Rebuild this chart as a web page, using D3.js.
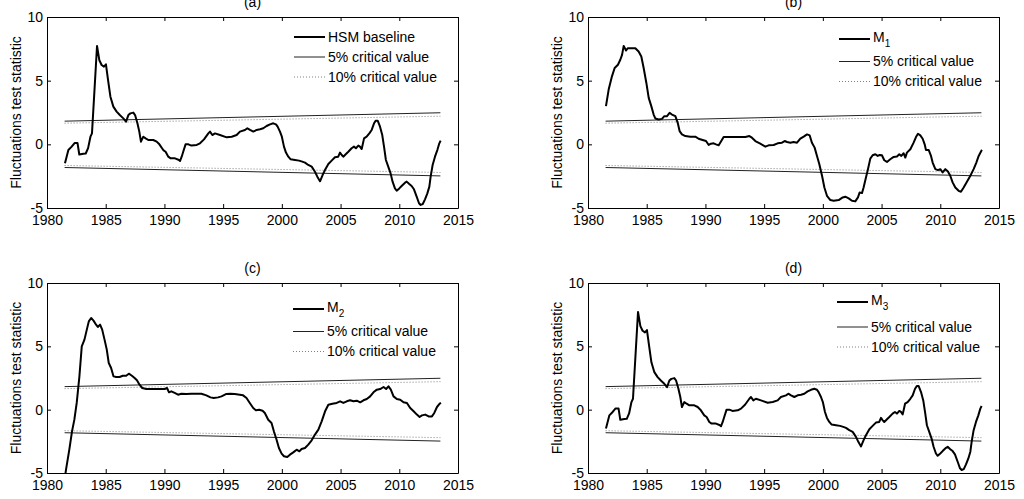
<!DOCTYPE html>
<html>
<head>
<meta charset="utf-8">
<script src="https://cdn.jsdelivr.net/npm/d3@7"></script>
<style>
body { margin: 0; background: #fff; }
svg text { font-family: "Liberation Sans", Arial, Helvetica, sans-serif; }
</style>
</head>
<body>
<svg id="chart" width="1024" height="499"></svg>
<script>
// tick labels and text
const xTicks = [1980, 1985, 1990, 1995, 2000, 2005, 2010, 2015];
const yTicks = [-5, 0, 5, 10];
const panelTitles = ["(a)", "(b)", "(c)", "(d)"];
const seriesNames = [["HSM baseline", ""], ["M", "1"], ["M", "2"], ["M", "3"]];
const criticalLabels = ["5% critical value", "10% critical value"];
const yLabel = "Fluctuations test statistic";

// fluctuation test statistic, [year, value]
const hsmBaseline = [
  [1981.53,-1.49],[1981.82,-0.45],[1982.1,-0.18],[1982.35,0.1],[1982.6,0.1],[1982.75,-0.8],[1983.1,-0.74],[1983.3,-0.72],
  [1983.5,-0.3],[1983.7,0.6],[1983.83,0.86],[1984.26,7.72],[1984.46,6.6],[1984.65,6.23],[1984.85,6.1],[1985.02,6.28],
  [1985.2,5.05],[1985.4,3.74],[1985.65,2.96],[1985.93,2.57],[1986.2,2.3],[1986.5,2.04],[1986.73,1.78],[1986.93,2.3],
  [1987.1,2.43],[1987.35,2.49],[1987.5,2.3],[1987.7,1.65],[1987.86,1.0],[1988.0,0.21],[1988.2,0.6],[1988.4,0.47],
  [1988.63,0.34],[1989.05,0.34],[1989.34,0.21],[1989.57,0.0],[1989.9,-0.45],[1990.1,-0.58],[1990.33,-0.97],[1990.53,-1.1],
  [1990.9,-1.1],[1991.24,-1.23],[1991.33,-1.31],[1991.47,-0.97],[1991.6,-0.58],[1991.8,0.0],[1992.04,0.0],[1992.3,-0.1],
  [1992.75,-0.05],[1993.03,0.08],[1993.37,0.39],[1993.74,0.86],[1993.88,1.0],[1994.08,0.73],[1994.3,0.86],[1994.73,0.73],
  [1995.3,0.55],[1995.73,0.6],[1996.15,0.73],[1996.43,1.0],[1996.86,1.13],[1997.06,1.26],[1997.29,1.13],[1997.57,1.0],
  [1997.85,1.13],[1998.14,1.18],[1998.42,1.26],[1998.7,1.44],[1998.99,1.57],[1999.27,1.65],[1999.5,1.57],[1999.64,1.39],
  [1999.84,1.0],[2000.0,0.6],[2000.18,-0.18],[2000.35,-0.65],[2000.55,-0.97],[2000.75,-1.18],[2001.12,-1.23],[2001.46,-1.28],
  [2001.74,-1.36],[2001.97,-1.44],[2002.25,-1.62],[2002.54,-1.75],[2002.82,-2.15],[2003.02,-2.54],[2003.25,-2.9],[2003.47,-2.41],
  [2003.67,-2.02],[2003.96,-1.54],[2004.24,-1.28],[2004.52,-1.02],[2004.8,-0.97],[2004.95,-0.65],[2005.1,-0.84],[2005.23,-0.97],
  [2005.46,-0.76],[2005.66,-0.58],[2005.94,-0.31],[2006.14,-0.18],[2006.31,-0.31],[2006.51,-0.1],[2006.65,-0.18],[2006.8,-0.37],
  [2007.0,0.47],[2007.22,0.6],[2007.45,0.86],[2007.65,1.13],[2007.85,1.65],[2008.0,1.86],[2008.16,1.86],[2008.36,1.39],
  [2008.55,0.73],[2008.7,-0.18],[2008.86,-1.23],[2009.06,-1.75],[2009.26,-2.28],[2009.43,-2.93],[2009.63,-3.46],[2009.78,-3.64],
  [2010.0,-3.46],[2010.2,-3.27],[2010.49,-3.01],[2010.63,-2.93],[2010.85,-3.12],[2011.05,-3.27],[2011.25,-3.53],[2011.48,-4.11],
  [2011.68,-4.63],[2011.82,-4.76],[2012.0,-4.69],[2012.19,-4.32],[2012.39,-3.85],[2012.56,-3.32],[2012.67,-2.54],[2012.84,-1.62],
  [2013.04,-0.97],[2013.24,-0.45],[2013.41,0.08],[2013.52,0.29]
];

const m1 = [
  [1981.53,3.0],[1981.76,4.3],[1982.04,5.34],[1982.27,5.99],[1982.55,6.25],[1982.75,6.64],[1982.9,7.03],[1983.04,7.73],
  [1983.24,7.37],[1983.4,7.55],[1983.75,7.55],[1984.03,7.55],[1984.31,7.29],[1984.54,6.9],[1984.74,5.99],[1984.97,4.82],
  [1985.17,3.65],[1985.39,3.0],[1985.59,2.34],[1985.73,2.03],[1986.02,1.95],[1986.3,2.0],[1986.5,2.21],[1986.73,2.21],
  [1986.95,2.47],[1987.15,2.34],[1987.44,2.21],[1987.64,1.69],[1987.8,1.04],[1988.0,0.78],[1988.29,0.65],[1988.71,0.6],
  [1989.14,0.6],[1989.42,0.44],[1989.76,0.34],[1990.05,0.26],[1990.28,-0.05],[1990.47,0.05],[1990.7,0.08],[1990.9,0.0],
  [1991.13,-0.08],[1991.35,0.26],[1991.55,0.57],[1991.98,0.57],[1992.83,0.57],[1993.4,0.57],[1993.74,0.65],[1993.96,0.52],
  [1994.25,0.26],[1994.67,0.05],[1995.1,-0.18],[1995.38,-0.08],[1995.81,-0.05],[1996.15,0.08],[1996.52,0.13],[1996.75,0.26],
  [1996.95,0.18],[1997.23,0.13],[1997.51,0.18],[1997.8,0.13],[1998.08,0.44],[1998.37,0.6],[1998.65,0.78],[1998.88,0.7],
  [1999.07,0.13],[1999.3,-0.26],[1999.5,-0.91],[1999.7,-1.56],[1999.93,-2.47],[2000.13,-3.39],[2000.35,-4.04],[2000.64,-4.38],
  [2000.92,-4.43],[2001.35,-4.38],[2001.69,-4.17],[2001.91,-4.11],[2002.2,-4.24],[2002.48,-4.43],[2002.76,-4.48],[2002.99,-4.17],
  [2003.13,-3.78],[2003.33,-3.83],[2003.47,-3.39],[2003.67,-2.6],[2003.84,-1.95],[2004.04,-1.12],[2004.24,-0.86],[2004.47,-0.78],
  [2004.67,-0.91],[2004.84,-0.83],[2005.03,-0.86],[2005.23,-1.25],[2005.46,-1.38],[2005.74,-1.17],[2006.03,-0.99],[2006.31,-0.96],
  [2006.51,-0.78],[2006.68,-0.91],[2006.88,-0.7],[2007.02,-1.04],[2007.16,-0.65],[2007.45,-0.39],[2007.73,0.13],[2007.93,0.57],
  [2008.1,0.83],[2008.3,0.7],[2008.5,0.44],[2008.67,0.0],[2008.78,-0.44],[2009.01,-0.44],[2009.21,-0.91],[2009.35,-1.43],
  [2009.58,-1.95],[2009.8,-2.03],[2010.0,-1.95],[2010.2,-2.21],[2010.43,-1.95],[2010.65,-2.14],[2010.85,-2.47],[2011.05,-2.99],
  [2011.28,-3.39],[2011.56,-3.65],[2011.76,-3.72],[2011.99,-3.39],[2012.27,-2.94],[2012.56,-2.47],[2012.84,-1.95],[2013.07,-1.43],
  [2013.27,-0.91],[2013.49,-0.52],[2013.55,-0.44]
];

const m2 = [
  [1981.5,-5.5],[1981.62,-4.74],[1981.9,-3.16],[1982.13,-1.71],[1982.33,-0.79],[1982.53,0.53],[1982.76,2.63],[1982.96,5.0],
  [1983.19,5.53],[1983.39,6.32],[1983.56,6.97],[1983.76,7.24],[1983.96,7.03],[1984.18,6.71],[1984.33,6.53],[1984.52,6.71],
  [1984.7,6.32],[1984.9,5.53],[1985.09,4.74],[1985.26,3.68],[1985.46,3.29],[1985.66,2.63],[1985.89,2.58],[1986.18,2.58],
  [1986.46,2.68],[1986.74,2.68],[1986.97,2.84],[1987.23,2.68],[1987.46,2.5],[1987.66,2.32],[1987.88,1.97],[1988.11,1.71],
  [1988.45,1.63],[1989.02,1.63],[1989.59,1.63],[1990.02,1.63],[1990.22,1.71],[1990.39,1.37],[1990.59,1.45],[1990.87,1.32],
  [1991.16,1.18],[1991.44,1.26],[1991.87,1.24],[1992.29,1.26],[1992.72,1.26],[1993.15,1.26],[1993.57,1.13],[1993.92,0.97],
  [1994.2,0.92],[1994.57,0.97],[1994.86,1.05],[1995.28,1.24],[1995.62,1.26],[1995.99,1.24],[1996.42,1.18],[1996.7,1.13],
  [1996.99,0.92],[1997.27,0.53],[1997.56,0.13],[1997.79,-0.05],[1998.07,0.0],[1998.36,-0.08],[1998.55,-0.26],[1998.84,-0.79],
  [1999.12,-1.05],[1999.32,-1.71],[1999.55,-2.37],[1999.75,-3.03],[1999.98,-3.47],[2000.18,-3.68],[2000.46,-3.74],[2000.69,-3.55],
  [2000.97,-3.37],[2001.26,-3.16],[2001.49,-3.29],[2001.68,-3.11],[2001.97,-3.03],[2002.25,-2.76],[2002.54,-2.42],[2002.82,-1.97],
  [2003.11,-1.58],[2003.39,-0.92],[2003.68,-0.13],[2003.96,0.39],[2004.3,0.47],[2004.67,0.53],[2004.96,0.66],[2005.24,0.53],
  [2005.53,0.66],[2005.81,0.74],[2006.1,0.66],[2006.38,0.71],[2006.67,0.58],[2006.95,0.74],[2007.23,0.84],[2007.52,1.05],
  [2007.8,1.37],[2008.09,1.58],[2008.37,1.63],[2008.66,1.79],[2008.88,1.63],[2009.08,1.84],[2009.28,1.58],[2009.51,1.05],
  [2009.79,0.84],[2010.08,0.79],[2010.36,0.58],[2010.65,0.53],[2010.93,0.13],[2011.22,-0.13],[2011.5,-0.39],[2011.73,-0.58],
  [2011.93,-0.45],[2012.21,-0.39],[2012.5,-0.53],[2012.78,-0.53],[2012.98,-0.26],[2013.21,0.21],[2013.44,0.47],[2013.55,0.53]
];

const m3 = [
  [1981.53,-1.49],[1981.82,-0.45],[1982.1,-0.18],[1982.35,0.1],[1982.6,0.1],[1982.75,-0.8],[1983.1,-0.74],[1983.3,-0.72],
  [1983.5,-0.3],[1983.7,0.6],[1983.83,0.86],[1984.26,7.72],[1984.46,6.6],[1984.65,6.23],[1984.85,6.1],[1985.02,6.28],
  [1985.2,5.05],[1985.4,3.74],[1985.65,2.96],[1985.93,2.57],[1986.2,2.3],[1986.5,2.04],[1986.73,1.78],[1986.93,2.3],
  [1987.1,2.43],[1987.35,2.49],[1987.5,2.3],[1987.7,1.65],[1987.86,1.0],[1988.0,0.21],[1988.2,0.6],[1988.4,0.47],
  [1988.63,0.34],[1989.05,0.34],[1989.34,0.21],[1989.57,0.0],[1989.9,-0.45],[1990.1,-0.58],[1990.33,-0.97],[1990.53,-1.1],
  [1990.9,-1.1],[1991.24,-1.23],[1991.33,-1.31],[1991.47,-0.97],[1991.6,-0.58],[1991.8,0.0],[1992.04,0.0],[1992.3,-0.1],
  [1992.75,-0.05],[1993.03,0.08],[1993.37,0.39],[1993.74,0.86],[1993.88,1.0],[1994.08,0.73],[1994.3,0.86],[1994.73,0.73],
  [1995.3,0.55],[1995.73,0.6],[1996.15,0.73],[1996.43,1.0],[1996.86,1.13],[1997.06,1.26],[1997.29,1.13],[1997.57,1.0],
  [1997.85,1.13],[1998.14,1.18],[1998.42,1.26],[1998.7,1.44],[1998.99,1.57],[1999.27,1.65],[1999.5,1.57],[1999.64,1.39],
  [1999.84,1.0],[2000.0,0.6],[2000.18,-0.18],[2000.35,-0.65],[2000.55,-0.97],[2000.75,-1.18],[2001.12,-1.23],[2001.46,-1.28],
  [2001.74,-1.36],[2001.97,-1.44],[2002.25,-1.62],[2002.54,-1.75],[2002.82,-2.15],[2003.02,-2.54],[2003.25,-2.9],[2003.47,-2.41],
  [2003.67,-2.02],[2003.96,-1.54],[2004.24,-1.28],[2004.52,-1.02],[2004.8,-0.97],[2004.95,-0.65],[2005.1,-0.84],[2005.23,-0.97],
  [2005.46,-0.76],[2005.66,-0.58],[2005.94,-0.31],[2006.14,-0.18],[2006.31,-0.31],[2006.51,-0.1],[2006.65,-0.18],[2006.8,-0.37],
  [2007.0,0.47],[2007.22,0.6],[2007.45,0.86],[2007.65,1.13],[2007.85,1.65],[2008.0,1.86],[2008.16,1.86],[2008.36,1.39],
  [2008.55,0.73],[2008.7,-0.18],[2008.86,-1.23],[2009.06,-1.75],[2009.26,-2.28],[2009.43,-2.93],[2009.63,-3.46],[2009.78,-3.64],
  [2010.0,-3.46],[2010.2,-3.27],[2010.49,-3.01],[2010.63,-2.93],[2010.85,-3.12],[2011.05,-3.27],[2011.25,-3.53],[2011.48,-4.11],
  [2011.68,-4.63],[2011.82,-4.76],[2012.0,-4.69],[2012.19,-4.32],[2012.39,-3.85],[2012.56,-3.32],[2012.67,-2.54],[2012.84,-1.62],
  [2013.04,-0.97],[2013.24,-0.45],[2013.41,0.08],[2013.52,0.29]
];

// critical value bands
const crit5Upper = [[1981.5, 1.82], [2013.5, 2.48]];
const crit5Lower = [[1981.5, -1.82], [2013.5, -2.48]];
const crit10Upper = [[1981.5, 1.66], [2013.5, 2.21]];
const crit10Lower = [[1981.5, -1.66], [2013.5, -2.21]];

const allSeries = [hsmBaseline, m1, m2, m3];

// layout of the 4 panels (pixels)
const panels = [
  {left: 47, top: 17, w: 411, h: 191, legX: 247, legRows: [20, 40, 60]},
  {left: 588, top: 17, w: 411, h: 191, legX: 251, legRows: [22, 44.5, 64.5]},
  {left: 47, top: 283, w: 411, h: 190, legX: 246, legRows: [26, 48.5, 68.5]},
  {left: 588, top: 283, w: 411, h: 190, legX: 249, legRows: [19, 44, 64]}
];

const fontSize = 14;
const svg = d3.select("#chart");
svg.append("rect").attr("width", 1024).attr("height", 499).attr("fill", "#fff");

const styleAxis = (sel) => {
    sel.attr("font-size", fontSize).attr("font-family", null);
    sel.selectAll("text").attr("fill", "#000");
    sel.selectAll("line, path").attr("stroke", "#000");
}

const drawPanel = (p, i) => {
    let x = d3.scaleLinear().domain([1980, 2015]).range([0, p.w]);
    let y = d3.scaleLinear().domain([-5, 10]).range([p.h, 0]);

    let g = svg.append("g").attr("transform", `translate(${p.left},${p.top})`);

    // clip so the curve does not run out of the box
    g.append("clipPath").attr("id", "clip" + i)
        .append("rect").attr("width", p.w).attr("height", p.h);

    let line = d3.line().x(d => x(d[0])).y(d => y(d[1]));

    let plot = g.append("g").attr("clip-path", `url(#clip${i})`);

    // 10% critical value (dotted grey)
    [crit10Upper, crit10Lower].forEach(c => {
        plot.append("path").attr("d", line(c))
            .attr("fill", "none").attr("stroke", "#808080")
            .attr("stroke-width", 1).attr("stroke-dasharray", "1,2");
    });
    // 5% critical value
    [crit5Upper, crit5Lower].forEach(c => {
        plot.append("path").attr("d", line(c))
            .attr("fill", "none").attr("stroke", "#222")
            .attr("stroke-width", 1);
    });

    plot.append("path").attr("d", line(allSeries[i]))
        .attr("fill", "none").attr("stroke", "#000")
        .attr("stroke-width", 2).attr("stroke-linejoin", "round");

    // axes, ticks point inward like matlab
    g.append("g").attr("transform", `translate(0,${p.h})`)
        .call(d3.axisBottom(x).tickValues(xTicks).tickSizeInner(-4).tickSizeOuter(0)
            .tickPadding(7).tickFormat(d => String(d)))
        .call(styleAxis);
    g.append("g")
        .call(d3.axisTop(x).tickValues(xTicks).tickSizeInner(-4).tickSizeOuter(0).tickFormat(() => ""))
        .call(styleAxis);
    g.append("g")
        .call(d3.axisLeft(y).tickValues(yTicks).tickSizeInner(-4).tickSizeOuter(0)
            .tickPadding(4).tickFormat(d => String(d)))
        .call(styleAxis);
    g.append("g").attr("transform", `translate(${p.w},0)`)
        .call(d3.axisRight(y).tickValues(yTicks).tickSizeInner(-4).tickSizeOuter(0).tickFormat(() => ""))
        .call(styleAxis);

    // title
    g.append("text").attr("x", p.w / 2).attr("y", -10.5)
        .attr("text-anchor", "middle").attr("font-size", fontSize)
        .text(panelTitles[i]);

    // y label
    g.append("text")
        .attr("transform", `translate(-26,${p.h / 2}) rotate(-90)`)
        .attr("text-anchor", "middle").attr("font-size", fontSize)
        .text(yLabel);

    // legend
    let lx0 = p.legX, lx1 = p.legX + 31, tx = p.legX + 34;
    let legStyles = [
        {stroke: "#000", width: 2, dash: null},
        {stroke: "#222", width: 1, dash: null},
        {stroke: "#808080", width: 1, dash: "1,2"}
    ];
    legStyles.forEach((s, r) => {
        let ly = p.legRows[r];
        g.append("line").attr("x1", lx0).attr("x2", lx1).attr("y1", ly).attr("y2", ly)
            .attr("stroke", s.stroke).attr("stroke-width", s.width)
            .attr("stroke-dasharray", s.dash);
        let t = g.append("text").attr("x", tx).attr("font-size", fontSize);
        if (r == 0) {
            let nm = seriesNames[i];
            if (nm[1] == "") {
                t.attr("y", ly).attr("dy", "0.35em").text(nm[0]);
            } else {
                t.attr("y", ly - 2).attr("dy", "0.35em");
                t.append("tspan").text(nm[0]);
                t.append("tspan").attr("font-size", 10).attr("dy", 5).text(nm[1]);
            }
        } else {
            t.attr("y", ly).attr("dy", "0.35em").text(criticalLabels[r - 1]);
        }
    });
}

panels.forEach(drawPanel);
</script>
</body>
</html>
